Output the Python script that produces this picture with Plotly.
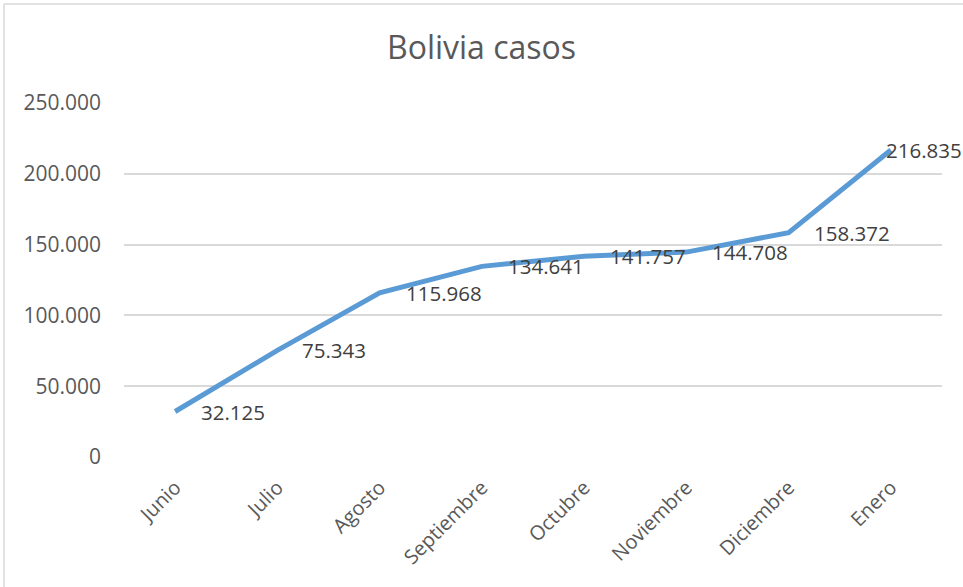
import plotly.graph_objects as go

months = ["Junio", "Julio", "Agosto", "Septiembre", "Octubre", "Noviembre", "Diciembre", "Enero"]
casos = [32125, 75343, 115968, 134641, 141757, 144708, 158372, 216835]
y_ticks = [0, 50000, 100000, 150000, 200000, 250000]

# pixel nudges for the data labels, as Excel placed them
label_shift = [24, 23, 24, 24, 24, 24, 23, -7]

FONT = "Open Sans"
GREY = "#595959"


def fmt(v):
    return f"{v:,}".replace(",", ".")


fig = go.Figure()
fig.add_trace(go.Scatter(
    x=list(range(len(months))), y=casos, mode="lines",
    line=dict(color="#5B9BD5", width=5), showlegend=False, hoverinfo="skip",
))

for i, (m, v) in enumerate(zip(months, casos)):
    fig.add_annotation(
        x=i, y=v, text=fmt(v), showarrow=False, xanchor="left", yanchor="middle",
        xshift=label_shift[i], font=dict(family=FONT, size=20.5, color="#404040"),
    )

# chart-area border (left and top edges visible)
fig.add_shape(type="line", xref="paper", yref="paper", x0=-0.1467, x1=1.1, y0=1.2797, y1=1.2797,
              line=dict(color="#D9D9D9", width=1.5))
fig.add_shape(type="line", xref="paper", yref="paper", x0=-0.1467, x1=-0.1467, y0=-0.5, y1=1.2797,
              line=dict(color="#D9D9D9", width=1.5))

fig.update_layout(
    width=963, height=587,
    margin=dict(l=124, r=21, t=103, b=130),
    paper_bgcolor="white", plot_bgcolor="white",
    title=dict(text="Bolivia casos", x=0.5, xanchor="center", y=1 - 48 / 587, yanchor="middle",
               font=dict(family=FONT, size=32, color=GREY)),
    font=dict(family=FONT, color=GREY),
)
fig.update_xaxes(
    range=[-0.5, len(months) - 0.5], tickmode="array",
    tickvals=list(range(len(months))), ticktext=months, tickangle=-45,
    showgrid=False, zeroline=False, showline=False, ticks="",
    ticklabelstandoff=14,
    tickfont=dict(family=FONT, size=20, color=GREY),
)
fig.update_yaxes(
    range=[0, 250000], tickmode="array", tickvals=y_ticks,
    ticktext=[fmt(t) for t in y_ticks],
    showgrid=True, gridcolor="#D9D9D9", gridwidth=1.5, zeroline=False, showline=False,
    ticks="", ticklabelstandoff=22,
    tickfont=dict(family=FONT, size=21, color=GREY),
)

fig.write_html("out.html", config={"displayModeBar": False},
               post_script="document.body.style.margin='0';")
